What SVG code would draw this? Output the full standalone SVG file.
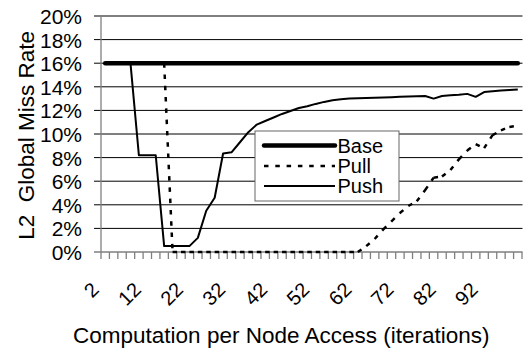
<svg xmlns="http://www.w3.org/2000/svg" width="525" height="348" viewBox="0 0 525 348">
  <style>
    text { font-family: "Liberation Sans", Arial, sans-serif; fill: #000; }
    .ylab { font-size: 21px; text-anchor: end; }
    .xlab { font-size: 20px; text-anchor: end; }
    .title { font-size: 22.5px; text-anchor: middle; }
    .ytitle { font-size: 22.5px; text-anchor: middle; }
    .leg { font-size: 20px; }
    .grid { stroke: #000; stroke-width: 1; fill: none; }
    .axis { stroke: #808080; stroke-width: 1.3; fill: none; }
    .base { stroke: #000; stroke-width: 4.5; stroke-linecap: round; fill: none; }
    .pull { stroke: #000; stroke-width: 2.5; stroke-dasharray: 4.5 6.8; fill: none; }
    .push { stroke: #000; stroke-width: 2; fill: none; stroke-linejoin: round; }
  </style>

  <rect width="525" height="348" fill="#fff"/>

  <!-- horizontal gridlines (2% steps) with outside ticks on the value axis -->
  <g id="gridlines">
    <path class="grid" d="M94 16H522.5 M94 39.6H522.5 M94 63.2H522.5 M94 86.8H522.5 M94 110.4H522.5 M94 134H522.5 M94 157.6H522.5 M94 181.2H522.5 M94 204.8H522.5 M94 228.4H522.5"/>
  </g>

  <!-- axes and category ticks -->
  <g id="axes">
    <path class="axis" d="M101 16V259 M94 252H522.5"/>
    <path class="axis" d="M109.42 252v7M117.84 252v7M126.26 252v7M134.68 252v7M143.1 252v7M151.52 252v7M159.94 252v7M168.36 252v7M176.78 252v7M185.2 252v7M193.62 252v7M202.04 252v7M210.46 252v7M218.88 252v7M227.3 252v7M235.72 252v7M244.14 252v7M252.56 252v7M260.98 252v7M269.4 252v7M277.82 252v7M286.24 252v7M294.66 252v7M303.08 252v7M311.5 252v7M319.92 252v7M328.34 252v7M336.76 252v7M345.18 252v7M353.6 252v7M362.02 252v7M370.44 252v7M378.86 252v7M387.28 252v7M395.7 252v7M404.12 252v7M412.54 252v7M420.96 252v7M429.38 252v7M437.8 252v7M446.22 252v7M454.64 252v7M463.06 252v7M471.48 252v7M479.9 252v7M488.32 252v7M496.74 252v7M505.16 252v7M513.58 252v7M522 252v7"/>
  </g>

  <!-- value axis labels -->
  <g id="y-labels">
    <text class="ylab" x="82" y="24">20%</text>
    <text class="ylab" x="82" y="47.6">18%</text>
    <text class="ylab" x="82" y="71.2">16%</text>
    <text class="ylab" x="82" y="94.8">14%</text>
    <text class="ylab" x="82" y="118.4">12%</text>
    <text class="ylab" x="82" y="142">10%</text>
    <text class="ylab" x="82" y="165.6">8%</text>
    <text class="ylab" x="82" y="189.2">6%</text>
    <text class="ylab" x="82" y="212.8">4%</text>
    <text class="ylab" x="82" y="236.4">2%</text>
    <text class="ylab" x="82" y="260">0%</text>
  </g>

  <!-- category axis labels, rotated -->
  <g id="x-labels">
    <text class="xlab" transform="translate(100.2 291) rotate(-45)">2</text>
    <text class="xlab" transform="translate(142.3 291) rotate(-45)">12</text>
    <text class="xlab" transform="translate(184.4 291) rotate(-45)">22</text>
    <text class="xlab" transform="translate(226.5 291) rotate(-45)">32</text>
    <text class="xlab" transform="translate(268.6 291) rotate(-45)">42</text>
    <text class="xlab" transform="translate(310.7 291) rotate(-45)">52</text>
    <text class="xlab" transform="translate(352.8 291) rotate(-45)">62</text>
    <text class="xlab" transform="translate(394.9 291) rotate(-45)">72</text>
    <text class="xlab" transform="translate(437 291) rotate(-45)">82</text>
    <text class="xlab" transform="translate(479.1 291) rotate(-45)">92</text>
  </g>

  <!-- axis titles -->
  <g id="titles">
    <text class="title" x="281.3" y="342.5">Computation per Node Access (iterations)</text>
    <text class="ytitle" transform="translate(33.5 135.3) rotate(-90)" xml:space="preserve">L2  Global Miss Rate</text>
  </g>

  <!-- data series -->
  <g id="series">
    <g id="series-base">
      <path class="base" d="M105.21 63.2H517.79"/>
    </g>
    <g id="series-pull">
      <path class="pull" d="M105.21 63.2H164.15 M164.15 63.2L172.57 252 M172.57 252H180.99 M180.99 252H189.41 M189.41 252H197.83 M197.83 252H206.25 M206.25 252H214.67 M214.67 252H223.09 M223.09 252H231.51 M231.51 252H239.93 M239.93 252H248.35 M248.35 252H256.77 M256.77 252H265.19 M265.19 252H273.61 M273.61 252H282.03 M282.03 252H290.45 M290.45 252H298.87 M298.87 252H307.29 M307.29 252H315.71 M315.71 252H324.13 M324.13 252H332.55 M332.55 252H340.97 M340.97 252H349.39 M349.39 252H357.81 M357.81 252L366.23 246.1 M366.23 246.1L374.65 239.02 M374.65 239.02L383.07 229.58 M383.07 229.58L391.49 221.32 M391.49 221.32L399.91 213.06 M399.91 213.06L408.33 205.98 M408.33 205.98L416.75 201.26 M416.75 201.26L425.17 190.05 M425.17 190.05L433.59 177.66 M433.59 177.66L442.01 176.48 M442.01 176.48L450.43 169.99 M450.43 169.99L458.85 159.37 M458.85 159.37L467.27 150.52 M467.27 150.52L475.69 144.03 M475.69 144.03L484.11 148.16 M484.11 148.16L492.53 135.18 M492.53 135.18L500.95 130.46 M500.95 130.46L509.37 126.92 M509.37 126.92L517.79 125.74"/>
    </g>
    <g id="series-push">
      <polyline class="push" points="105.21,63.2 113.63,63.2 122.05,63.2 130.47,63.2 138.89,155.24 147.31,155.24 155.73,155.24 164.15,246.1 172.57,246.1 180.99,246.1 189.41,246.1 197.83,237.84 206.25,210.7 214.67,197.72 223.09,153.47 231.51,152.29 239.93,142.26 248.35,132.23 256.77,124.56 265.19,121.02 273.61,117.48 282.03,113.94 290.45,110.99 298.87,108.04 307.29,106.27 315.71,103.91 324.13,101.9 332.55,100.25 340.97,99.19 349.39,98.6 357.81,98.36 366.23,98.01 374.65,97.66 383.07,97.42 391.49,97.18 399.91,96.83 408.33,96.59 416.75,96.24 425.17,96 433.59,98.6 442.01,96 450.43,95.3 458.85,94.82 467.27,93.88 475.69,96.83 484.11,92.11 492.53,91.28 500.95,90.58 509.37,89.99 517.79,89.4"/>
    </g>
  </g>

  <!-- legend -->
  <g id="legend">
    <rect x="255" y="131" width="144" height="70" fill="#fff" stroke="#666" stroke-width="1"/>
    <path class="base" d="M264 145.5H335"/>
    <path class="pull" d="M264 166H335"/>
    <path class="push" d="M264 186H335"/>
    <text class="leg" x="337.5" y="152.5">Base</text>
    <text class="leg" x="337.5" y="172.5">Pull</text>
    <text class="leg" x="337.5" y="192.5">Push</text>
  </g>
</svg>
